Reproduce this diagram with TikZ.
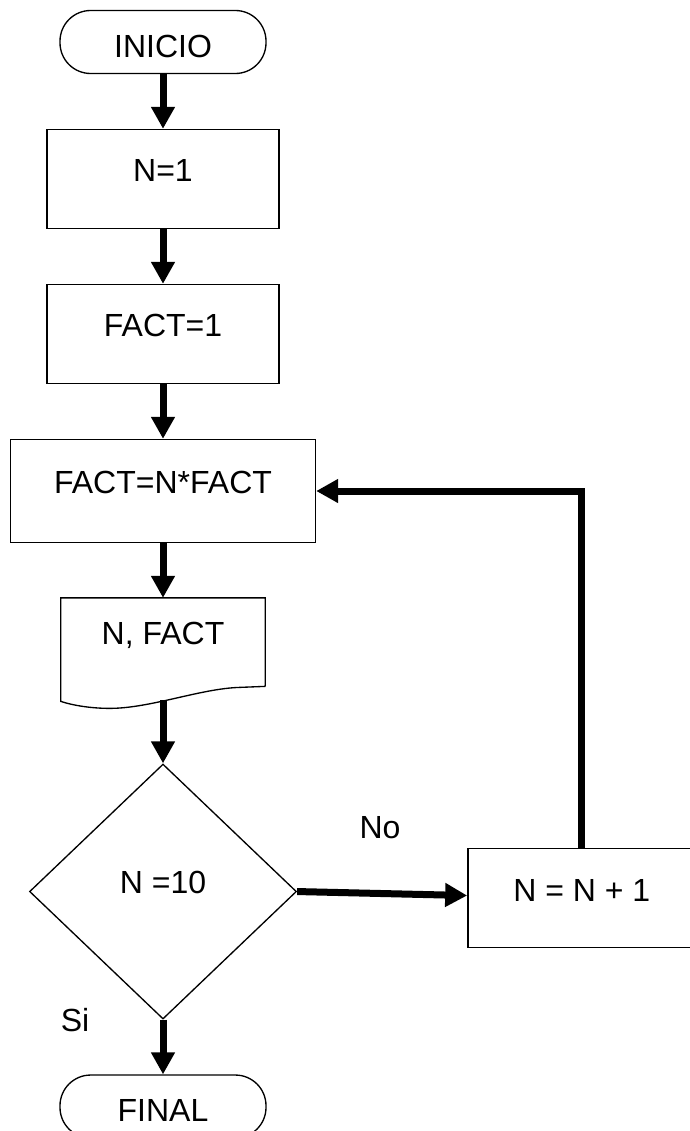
\documentclass[tikz,border=0pt]{standalone}
\usepackage{fontspec}
\setmainfont{Liberation Sans}
\usetikzlibrary{arrows.meta,positioning,shapes.geometric,calc}

\begin{document}
\begin{tikzpicture}[x=0.75pt, y=-0.75pt, ->, >={Triangle[length=16.5pt,width=17pt]}, node distance=41pt, font=\fontsize{24pt}{28pt}\selectfont]

%====Stili dei blocchi=======================================================

	\tikzstyle{terminal}=[rectangle, rounded corners=23pt, draw, line width=1pt, minimum width=154.5pt, minimum height=47.25pt, text height=23pt, text depth=0pt]
	\tikzstyle{proceso}=[rectangle, draw, line width=1pt, minimum width=174pt, minimum height=74.25pt, text height=17.25pt, text depth=13pt]
	\tikzstyle{documento}=[rectangle, inner sep=0pt, minimum width=153pt, minimum height=66pt, text height=17.25pt, text depth=13pt]
	\tikzstyle{decision}=[diamond, draw, line width=1pt, inner sep=0pt, minimum width=200.25pt, minimum height=191.25pt, text height=17.25pt, text depth=15pt]
	\tikzstyle{every edge}=[draw, line width=5.25pt]

	\useasboundingbox (0,0) rectangle (689,1131);

%====Blocchi e posizione======================================================
	\node[terminal]                                       (ini)  at (163,42)  {INICIO};
	\node[proceso]                                        (n1)   [below=of ini]  {N=1};
	\node[proceso]                                        (f1)   [below=of n1]   {FACT=1};
	\node[proceso, minimum width=228.75pt, minimum height=77.25pt] (calc) [below=of f1] {FACT=N*FACT};
	\node[documento]                                      (doc)  [below=of calc] {N, FACT};
	\node[decision]                                       (dec)  [below=57.75pt of doc] {N =10};
	\node[terminal]                                       (fin)  [below=of dec]  {FINAL};
	\node[proceso, minimum width=171pt]                   (incr) [right=127.5pt of dec, yshift=-5pt] {N = N + 1};

	\node (no) at (380,828)  {No};
	\node (si) at (75,1020)  {Si};

%====Contorno del documento==================================================
	\draw[-, line width=1pt] (doc.south east) -- (doc.north east) -- (doc.north west)
		-- ($(doc.south west)+(0,15)$)
		.. controls ($(doc.south west)+(12,19)$) and ($(doc.south west)+(30,22)$) .. ($(doc.south west)+(49,22)$)
		.. controls ($(doc.south west)+(90,22)$) and ($(doc.south west)+(140,2)$) .. ($(doc.south east)+(-25,1)$)
		-- (doc.south east);
	\coordinate (docbot) at ($(doc.south)+(0,14)$);

%====Collegamenti=============================================================
      %from       stile          to
      \path (ini)      edge     (n1)
            (n1)       edge     (f1)
            (f1)       edge     (calc)
            (calc)     edge     (doc)
            (docbot)   edge     (dec)
            (dec)      edge     (fin)
            (dec.east) edge     (incr);
      \draw[line width=5.25pt] (incr.north) |- (calc.east);
\end{tikzpicture}
\end{document}
